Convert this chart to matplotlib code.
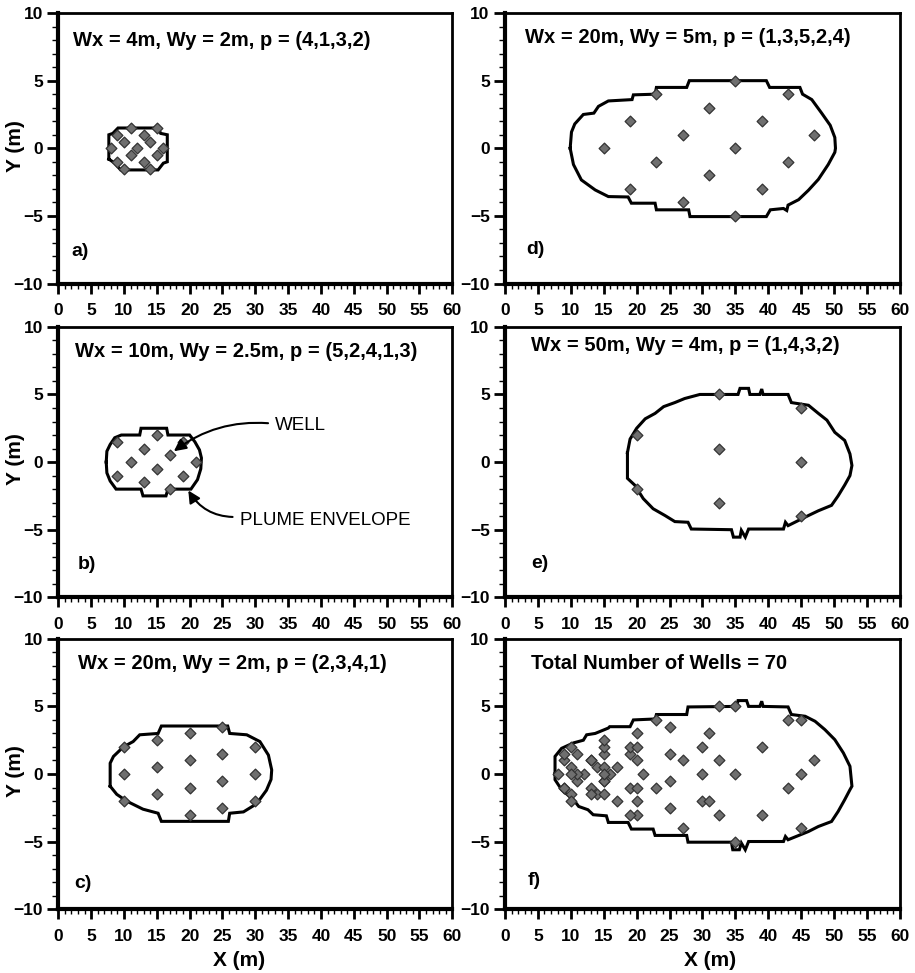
import matplotlib
matplotlib.use('Agg')
import matplotlib.pyplot as plt
import numpy as np
from matplotlib.ticker import MultipleLocator

plt.rcParams['font.family'] = ['Liberation Sans', 'DejaVu Sans']

# well locations (m)
wells_a_x = [8, 9, 10, 11, 9, 10, 11, 12, 13, 14, 15, 13, 14, 15, 16]
wells_a_y = [0, 1, 0.5, 1.5, -1, -1.5, -0.5, 0, 1, 0.5, 1.5, -1, -1.5, -0.5, 0]

wells_b_x = [9, 15, 19, 13, 17, 11, 21, 15, 9, 19, 13, 17]
wells_b_y = [1.5, 2, 1.5, 1, 0.5, 0, 0, -0.5, -1, -1, -1.5, -2]

wells_c_x = [10, 10, 10, 15, 15, 15, 20, 20, 20, 20, 25, 25, 25, 25, 30, 30, 30]
wells_c_y = [2, 0, -2, 2.5, 0.5, -1.5, 3, 1, -1, -3, 3.5, 1.5, -0.5, -2.5, 2, 0, -2]

wells_d_x = [15, 19, 19, 23, 23, 27, 27, 31, 31, 35, 35, 35, 39, 39, 43, 43, 47]
wells_d_y = [0, 2, -3, 4, -1, 1, -4, 3, -2, 5, 0, -5, 2, -3, 4, -1, 1]

wells_e_x = [20, 20, 32.5, 32.5, 32.5, 45, 45, 45]
wells_e_y = [2, -2, 5, 1, -3, 4, 0, -4]

# plume envelopes (m)
env_a_x = [7.7, 7.7, 8.3, 9.1, 15.2, 15.6, 16.6, 16.6, 16.0, 15.2, 9.5, 8.6, 7.7]
env_a_y = [-0.8, 1.0, 1.1, 1.5, 1.5, 1.1, 1.0, -1.0, -1.1, -1.6, -1.6, -1.1, -0.8]

env_b_x = [7.3, 7.4, 7.9, 8.6, 9.6, 12.4, 12.6, 16.5, 16.7, 20.0, 20.8, 21.5, 21.8,
           21.7, 21.2, 20.2, 16.7, 16.4, 12.9, 12.6, 8.8, 7.9, 7.4, 7.3]
env_b_y = [0, 0.8, 1.3, 1.8, 2.0, 2.0, 2.5, 2.5, 2.0, 2.0, 1.5, 0.9, 0.3,
           -0.5, -1.3, -2.0, -2.0, -2.5, -2.5, -2.0, -2.0, -1.4, -0.8, 0]

env_c_x = [7.9, 7.9, 8.4, 9.9, 11.4, 12.4, 15.2, 15.7, 25.8, 26.1, 28.7, 30.7, 32.0,
           32.5, 32.4, 31.7, 30.2, 28.2, 26.1, 25.9, 15.7, 15.2, 12.9, 10.4, 8.9, 7.9]
env_c_y = [-0.9, 0.8, 1.3, 2.0, 2.4, 2.9, 3.0, 3.55, 3.55, 3.0, 2.9, 2.4, 1.4,
           0.3, -0.4, -1.2, -2.2, -2.8, -2.9, -3.5, -3.5, -2.9, -2.6, -2.0, -1.5, -0.9]

env_d_x = [9.9, 10.1, 10.6, 11.9, 13.5, 14.2, 15.7, 19.3, 19.5, 22.8, 23.0, 27.6, 28.0,
           39.7, 40.2, 44.8, 45.2, 46.6, 48.1, 49.4, 50.1, 50.2, 50.1, 49.1, 47.6,
           46.1, 44.6, 43.0, 42.8, 42.3, 40.3, 39.7, 28.1, 27.9, 23.0, 22.8, 19.2,
           18.7, 15.7, 13.7, 11.6, 10.4, 9.9]
env_d_y = [0, 1.2, 1.8, 2.5, 2.6, 3.1, 3.5, 3.6, 3.95, 4.0, 4.5, 4.5, 5.0,
           5.0, 4.5, 4.5, 4.0, 3.6, 2.6, 1.7, 0.8, 0, -0.3, -1.2, -2.3,
           -3.1, -3.8, -4.2, -4.6, -4.45, -4.55, -5.05, -5.05, -4.55, -4.55, -4.06, -4.06,
           -3.6, -3.57, -3.08, -2.34, -1.2, 0]

env_e_x = [18.6, 19.0, 20.0, 21.3, 22.8, 24.1, 25.8, 27.3, 29.6, 35.4, 35.7, 37.0, 37.2,
           38.7, 39.0, 39.2, 43.0, 43.5, 46.1, 47.6, 48.9, 50.1, 51.6, 52.4, 52.7, 52.4,
           51.6, 50.6, 49.6, 47.6, 46.1, 43.0, 42.6, 42.3, 37.0, 36.5, 35.9, 35.7, 34.7,
           34.4, 28.3, 27.8, 25.8, 24.3, 22.5, 21.0, 19.7, 18.6, 18.6]
env_e_y = [0.7, 1.7, 2.5, 3.2, 3.6, 4.1, 4.4, 4.7, 5.0, 5.0, 5.45, 5.45, 5.0,
           5.0, 5.4, 5.0, 5.0, 4.4, 4.2, 3.6, 3.1, 2.2, 1.6, 0.6, -0.25, -1.0,
           -1.7, -2.5, -3.2, -3.6, -3.95, -4.7, -4.45, -4.95, -4.95, -5.55, -5.05, -5.55, -5.55,
           -5.0, -4.95, -4.45, -4.4, -3.95, -3.45, -2.7, -1.7, -1.2, 0.7]

env_f_x = [7.6, 7.6, 8.6, 10.4, 11.9, 12.4, 13.7, 15.7, 15.9, 19.0, 19.5, 22.8, 23.0,
           27.6, 27.8, 35.2, 35.4, 36.7, 37.0, 38.7, 39.0, 39.2, 43.0, 43.5, 45.6, 47.1,
           48.6, 50.1, 51.4, 52.4, 52.7, 52.4, 51.6, 50.6, 49.6, 47.6, 46.1, 43.0, 42.6,
           42.3, 37.0, 36.5, 35.9, 35.6, 34.6, 34.4, 27.8, 27.6, 22.8, 22.5, 19.2, 18.7,
           15.7, 15.4, 13.4, 12.6, 11.2, 10.4, 8.6, 7.6, 7.6]
env_f_y = [0, 1.3, 1.9, 2.3, 2.5, 2.9, 3.0, 3.4, 3.5, 3.5, 4.0, 4.07, 4.4,
           4.4, 4.96, 5.0, 5.43, 5.43, 5.0, 5.0, 5.38, 5.0, 4.96, 4.4, 4.27, 3.9,
           3.28, 2.54, 1.56, 0.57, -0.9, -1.16, -1.9, -2.77, -3.51, -3.88, -4.25, -4.86, -4.62,
           -4.99, -4.99, -5.6, -5.1, -5.6, -5.6, -5.04, -5.04, -4.54, -4.54, -4.07, -4.07, -3.58,
           -3.58, -3.09, -3.01, -2.64, -2.4, -1.9, -1.16, -0.42, 0]

wells_f_x = wells_a_x + wells_b_x + wells_c_x + wells_d_x + wells_e_x
wells_f_y = wells_a_y + wells_b_y + wells_c_y + wells_d_y + wells_e_y

titles = ['Wx = 4m, Wy = 2m, p = (4,1,3,2)',
          'Wx = 10m, Wy = 2.5m, p = (5,2,4,1,3)',
          'Wx = 20m, Wy = 2m, p = (2,3,4,1)',
          'Wx = 20m, Wy = 5m, p = (1,3,5,2,4)',
          'Wx = 50m, Wy = 4m, p = (1,4,3,2)',
          'Total Number of Wells = 70']
panel_labels = ['a)', 'b)', 'c)', 'd)', 'e)', 'f)']
title_pos = [(2.3, 8.0), (2.5, 8.2), (3.0, 8.2), (3.0, 8.2), (4.0, 8.6), (4.0, 8.15)]
label_pos = [(2.0, -7.6), (3.0, -7.6), (2.4, -8.1), (3.3, -7.5), (4.0, -7.5), (3.4, -7.9)]

wells = [(wells_a_x, wells_a_y), (wells_b_x, wells_b_y), (wells_c_x, wells_c_y),
         (wells_d_x, wells_d_y), (wells_e_x, wells_e_y), (wells_f_x, wells_f_y)]
envelopes = [(env_a_x, env_a_y), (env_b_x, env_b_y), (env_c_x, env_c_y),
             (env_d_x, env_d_y), (env_e_x, env_e_y), (env_f_x, env_f_y)]

fig = plt.figure(figsize=(9.15, 9.73), dpi=100)
col_left = [0.0637, 0.5519]
col_width = [0.4306, 0.4317]
row_bottom = [0.7086, 0.3861, 0.0655]
row_height = 0.278

for i in range(6):
    col, row = divmod(i, 3)
    ax = fig.add_axes([col_left[col], row_bottom[row], col_width[col], row_height])

    ex, ey = envelopes[i]
    ax.plot(ex, ey, color='black', lw=2.2, solid_joinstyle='miter')
    wx, wy = wells[i]
    ax.scatter(wx, wy, marker='D', s=30, facecolor='#6f6f6f', edgecolor='#333333',
               linewidths=0.9, zorder=3)

    ax.text(title_pos[i][0], title_pos[i][1], titles[i], fontsize=14.5,
            fontweight='bold', va='center', ha='left')
    ax.text(label_pos[i][0], label_pos[i][1], panel_labels[i], fontsize=14,
            fontweight='bold', va='center', ha='left')

    ax.set_xlim(0, 60)
    ax.set_ylim(-10, 10)
    ax.xaxis.set_major_locator(MultipleLocator(5))
    ax.xaxis.set_minor_locator(MultipleLocator(1))
    ax.yaxis.set_major_locator(MultipleLocator(5))
    ax.yaxis.set_minor_locator(MultipleLocator(1))
    ax.tick_params(axis='x', which='major', direction='out', length=7, width=2,
                   pad=7, labelsize=12.5)
    ax.tick_params(axis='x', which='minor', direction='out', length=3.5, width=1)
    ax.tick_params(axis='y', which='major', direction='out', length=8, width=2,
                   pad=3, labelsize=12.5)
    ax.tick_params(axis='y', which='minor', direction='out', length=4, width=1)
    for lab in ax.get_xticklabels() + ax.get_yticklabels():
        lab.set_fontweight('bold')
    ax.spines['left'].set_linewidth(3)
    ax.spines['bottom'].set_linewidth(3)
    ax.spines['top'].set_linewidth(2)
    ax.spines['right'].set_linewidth(2)

    if col == 0:
        ax.set_ylabel('Y (m)', fontsize=15, fontweight='bold')
        ax.yaxis.set_label_coords(-0.085, 0.51)
    if row == 2:
        ax.set_xlabel('X (m)', fontsize=15, fontweight='bold')
        ax.xaxis.set_label_coords(0.46 if col == 0 else 0.52, -0.155)

    if i == 1:
        ax.annotate('WELL', xy=(17.6, 0.8), xytext=(33.0, 2.7), fontsize=13.5,
                    va='center', ha='left',
                    arrowprops=dict(arrowstyle='-|>', color='black', lw=1.5,
                                    connectionstyle='arc3,rad=0.2', relpos=(0, 0.6),
                                    shrinkA=3, shrinkB=0, mutation_scale=18))
        ax.annotate('PLUME ENVELOPE', xy=(19.8, -2.1), xytext=(27.6, -4.3),
                    fontsize=13.5, va='center', ha='left',
                    arrowprops=dict(arrowstyle='-|>', color='black', lw=1.5,
                                    connectionstyle='arc3,rad=-0.3', relpos=(0, 0.7),
                                    shrinkA=3, shrinkB=0, mutation_scale=18))

fig.savefig('out.png', dpi=100)
